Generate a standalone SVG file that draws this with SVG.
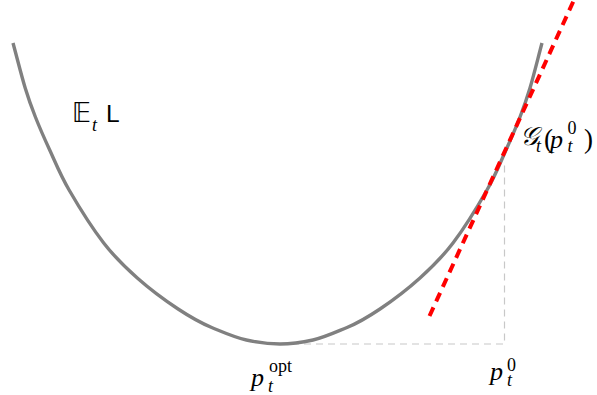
<svg xmlns="http://www.w3.org/2000/svg" width="597" height="395" viewBox="0 0 597 395">
<style>
.curve{fill:none;stroke:#808080;stroke-width:3.4}
.tan{fill:none;stroke:#ff0000;stroke-width:4;stroke-dasharray:9.5 6.5}
.guide{fill:none;stroke:#c8c8c8;stroke-width:1.2;stroke-dasharray:7 5}
.mi{font-family:"Liberation Serif","DejaVu Serif",serif;font-style:italic;fill:#000}
.up{font-style:normal}
.sf{font-family:"Liberation Sans","DejaVu Sans",sans-serif;font-style:normal}
.bb{font-family:"DejaVu Sans","DejaVu Serif","Noto Sans",sans-serif;font-style:normal}
</style>
<rect width="597" height="395" fill="#fff"/>
<g id="connectors">
<path class="guide" d="M280,344 H504.5 V162"/>
<path id="loss-curve" class="curve" d="M13,43 C17.07,58 21.47,75.67 25.2,88 C28.93,100.33 31.32,106.67 35.4,117 C39.48,127.33 44.08,137.83 49.7,150 C55.32,162.17 60.1,174.5 69.1,190 C78.1,205.5 92.33,228.33 103.7,243 C115.07,257.67 124.9,267 137.3,278 C149.7,289 165.7,300.83 178.1,309 C190.5,317.17 199.5,322.5 211.7,327.5 C223.9,332.5 235,337.5 246.4,340 C257.8,342.5 268.9,344 280,344 C291.1,344 301.8,342.5 313,340 C324.2,337.5 334.8,332.5 347,327.5 C359.2,322.5 367.83,317.17 380,309 C392.17,300.83 407.83,289 420,278 C432.17,267 441.83,257.67 453,243 C464.17,228.33 478.17,205.5 487,190 C495.83,174.5 500.5,162.17 506,150 C511.5,137.83 516,127.33 520,117 C524,106.67 526.33,100.33 530,88 C533.67,75.67 538,58 542,43"/>
<path id="tangent" class="tan" d="M429.5,316 L574,0"/>
</g>
<g id="label-EL">
<text class="mi" font-size="24"><tspan class="bb" x="72" y="121.7" font-size="26">𝔼</tspan><tspan x="92" y="130.5" font-size="18">t</tspan><tspan class="sf" x="106" y="121.7" font-size="24.5">L</tspan></text>
</g>
<g id="label-G">
<text class="mi" font-size="26"><tspan x="520" y="145">𝒢</tspan><tspan x="536" y="152" font-size="18">t</tspan><tspan class="up" x="544" y="148" font-size="27">(</tspan><tspan x="550" y="148">p</tspan><tspan class="up" x="567.5" y="134" font-size="18">0</tspan><tspan x="567.5" y="152" font-size="18">t</tspan><tspan class="up" x="584" y="148" font-size="27">)</tspan></text>
</g>
<g id="label-popt">
<text class="mi" font-size="26"><tspan x="251" y="386">p</tspan><tspan class="up" x="269" y="372" font-size="18">opt</tspan><tspan x="268" y="392" font-size="18">t</tspan></text>
</g>
<g id="label-p0">
<text class="mi" font-size="26"><tspan x="490" y="379.5">p</tspan><tspan class="up" x="507" y="370.5" font-size="18">0</tspan><tspan x="507" y="386" font-size="18">t</tspan></text>
</g>
</svg>
